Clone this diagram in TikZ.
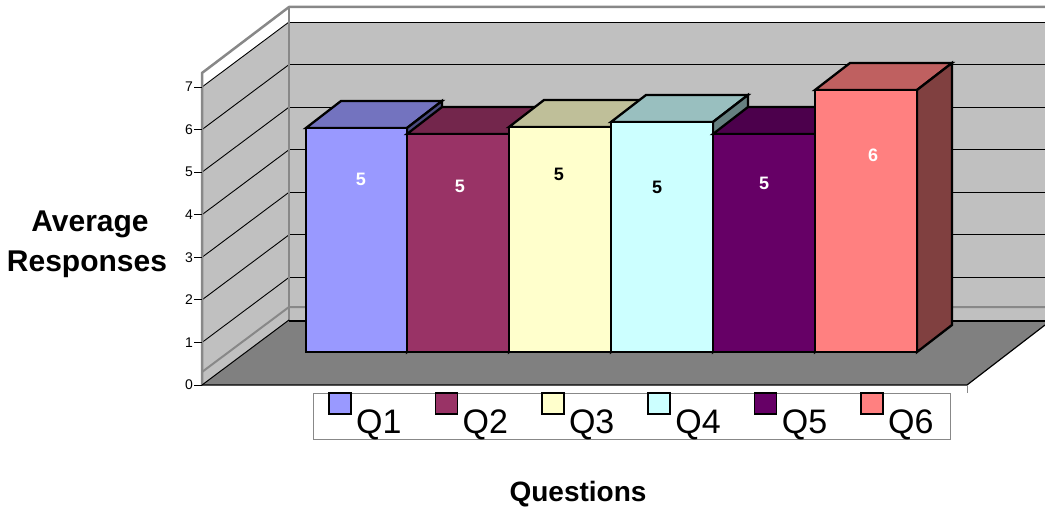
\documentclass[tikz,border=0pt]{standalone}
\usepackage{fontspec}
\setmainfont{Liberation Sans}
\definecolor{qa}{HTML}{9999FF}
\definecolor{qb}{HTML}{993366}
\definecolor{qc}{HTML}{FFFFCC}
\definecolor{qd}{HTML}{CCFFFF}
\definecolor{qe}{HTML}{660066}
\definecolor{qf}{HTML}{FF8080}
\definecolor{wallgray}{HTML}{C0C0C0}
\definecolor{floorgray}{HTML}{808080}
\definecolor{edgegray}{HTML}{888888}
\tikzset{
  walledge/.style={draw=edgegray, line width=2.5pt, line join=round},
  gridln/.style={draw=black, line width=0.9pt},
  baroutline/.style={draw=black, line width=2.3pt, line join=miter},
  ticklbl/.style={anchor=east, inner sep=0pt, font=\fontsize{14}{16}\selectfont},
  barlbl/.style={inner sep=0pt, font=\fontsize{18}{20}\selectfont\bfseries},
  leglbl/.style={anchor=base west, inner sep=0pt, font=\fontsize{34}{40}\selectfont},
  axtitle/.style={anchor=base, inner sep=0pt, font=\fontsize{30}{36}\selectfont\bfseries},
}
\begin{document}
\begin{tikzpicture}[x=1pt,y=-1pt]
\useasboundingbox (0,0) rectangle (1045,508);
% walls
\fill[wallgray] (202,385) -- (289,320) -- (289,7) -- (202,73) -- cycle;
\fill[white] (202,87) -- (289,22) -- (289,7) -- (202,73) -- cycle;
\fill[wallgray] (289,22) rectangle (1045,320);
\fill[white] (289,7) rectangle (1045,22);
% grid lines
\foreach \k in {1,...,7}{
  \draw[gridln] (202,{385-42.57*\k}) -- (289,{320-42.57*\k});
  \draw[gridln] (289,{320-42.57*\k}) -- (1045,{320-42.57*\k});
}
% wall base lines
\draw[draw=edgegray, line width=2pt] (202,372) -- (289,307) -- (1045,307);
% wall edges
\draw[walledge] (202,385) -- (202,73) -- (289,7) -- (1045,7);
\draw[walledge] (289,7) -- (289,320);
% floor
\fill[floorgray] (202,385) -- (289,320) -- (1045,320) -- (1045,325) -- (967,385) -- cycle;
\draw[black, line width=1.2pt] (289,321) -- (1045,321);
\draw[black, line width=1pt] (202,385) -- (289,320);
\draw[black, line width=1.2pt] (202,385) -- (967,385) -- (1045,325);
\draw[edgegray, line width=1pt] (967,385) -- (967,393);
% ticks and labels
\foreach \k in {0,...,7}{
  \draw[black, line width=1pt] (194,{385-42.57*\k}) -- (202,{385-42.57*\k});
  \node[ticklbl] (t\k) at (193,{385-42.57*\k}) {\k};
}
% bars
\foreach \n/\xl/\xr/\tp/\c/\lx/\ly/\lc/\val in {
  1/306/407/128/qa/361/179/white/5,
  2/407/509/134/qb/460/186/white/5,
  3/509/611/127/qc/559/174/black/5,
  4/611/713/122/qd/657/187/black/5,
  5/713/815/134/qe/764/183/white/5,
  6/815/917/90/qf/873/155/white/6}{
  \filldraw[baroutline, fill=\c!75!black] (\xl,\tp) -- (\xl+35,\tp-27) -- (\xr+35,\tp-27) -- (\xr,\tp) -- cycle;
  \filldraw[baroutline, fill=\c!50!black] (\xr,\tp) -- (\xr+35,\tp-27) -- (\xr+35,325) -- (\xr,352) -- cycle;
  \filldraw[baroutline, fill=\c] (\xl,352) rectangle (\xr,\tp);
  \node[barlbl, text=\lc] (v\n) at (\lx,\ly) {\val};
}
% legend
\draw[draw=edgegray, line width=1pt, fill=white] (313,393) rectangle (950,439);
\foreach \n/\c [count=\i from 0] in {1/qa,2/qb,3/qc,4/qd,5/qe,6/qf}{
  \filldraw[fill=\c, draw=black, line width=1.6pt] ({329+106.4*\i},393) rectangle ({351+106.4*\i},414);
  \node[leglbl] (l\n) at ({356+106.4*\i},433) {Q\n};
}
% axis titles
\node[axtitle] (ya) at (90,231) {Average};
\node[axtitle] (yb) at (87,271) {Responses};
\node[axtitle, font=\fontsize{28}{34}\selectfont\bfseries] (xa) at (578,501) {Questions};
\end{tikzpicture}
\end{document}
